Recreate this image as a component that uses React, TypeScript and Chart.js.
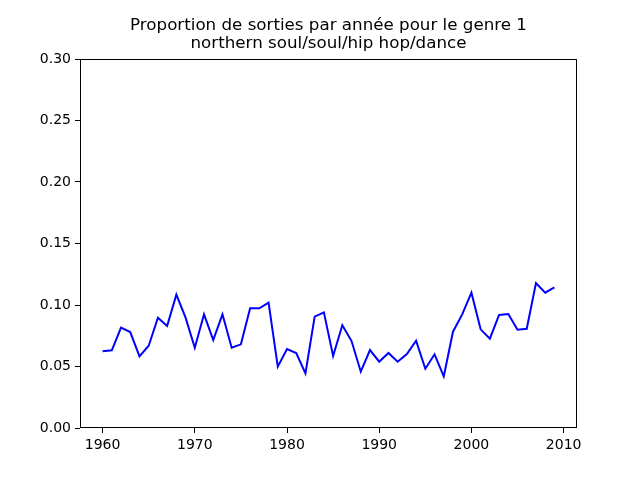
import React, { useEffect, useRef } from "react";
import { Chart, registerables } from "chart.js";

Chart.register(...registerables);

const titleLines = [
  "Proportion de sorties par année pour le genre 1",
  "northern soul/soul/hip hop/dance",
];

const years = [
  1960, 1961, 1962, 1963, 1964, 1965, 1966, 1967, 1968, 1969,
  1970, 1971, 1972, 1973, 1974, 1975, 1976, 1977, 1978, 1979,
  1980, 1981, 1982, 1983, 1984, 1985, 1986, 1987, 1988, 1989,
  1990, 1991, 1992, 1993, 1994, 1995, 1996, 1997, 1998, 1999,
  2000, 2001, 2002, 2003, 2004, 2005, 2006, 2007, 2008, 2009,
];

const proportions = [
  0.0624, 0.0632, 0.0816, 0.078, 0.0583, 0.0669, 0.0897, 0.0829, 0.1084, 0.0897,
  0.0653, 0.0924, 0.0715, 0.0924, 0.0653, 0.068, 0.0973, 0.0973, 0.1019, 0.0499,
  0.0642, 0.061, 0.0444, 0.0905, 0.094, 0.0585, 0.0835, 0.0707, 0.0458, 0.0634,
  0.0539, 0.061, 0.0539, 0.0602, 0.071, 0.0482, 0.0599, 0.042, 0.0783, 0.0924,
  0.11, 0.0802, 0.0726, 0.0919, 0.0927, 0.0799, 0.0807, 0.1179, 0.11, 0.1144,
];

const xTicks = [1960, 1970, 1980, 1990, 2000, 2010];
const yTicks = [0, 0.05, 0.1, 0.15, 0.2, 0.25, 0.3];

const FONT = "'DejaVu Sans', sans-serif";

const framePlugin = {
  id: "frameAndTitle",
  afterDraw(chart: any) {
    const { ctx, chartArea } = chart;
    ctx.save();
    ctx.strokeStyle = "#000";
    ctx.lineWidth = 1;
    ctx.strokeRect(
      Math.round(chartArea.left) + 0.5,
      Math.round(chartArea.top) + 0.5,
      Math.round(chartArea.right - chartArea.left) - 1,
      Math.round(chartArea.bottom - chartArea.top) - 1
    );
    ctx.fillStyle = "#000";
    ctx.font = `16.7px ${FONT}`;
    ctx.textAlign = "center";
    ctx.textBaseline = "middle";
    const cx = (chartArea.left + chartArea.right) / 2;
    ctx.fillText(titleLines[0], cx, 26);
    ctx.fillText(titleLines[1], cx, 44);
    ctx.restore();
  },
};

export default function App() {
  const ref = useRef<HTMLCanvasElement | null>(null);

  useEffect(() => {
    if (!ref.current) return;
    const data = years.map((y, i) => ({ x: y, y: proportions[i] }));
    const chart = new Chart(ref.current, {
      type: "line",
      data: {
        datasets: [
          {
            data,
            borderColor: "#0000ff",
            borderWidth: 2,
            pointRadius: 0,
            fill: false,
            tension: 0,
          },
        ],
      },
      options: {
        responsive: false,
        animation: false,
        layout: { padding: { top: 59, right: 63, left: 0, bottom: 0 } },
        plugins: {
          legend: { display: false },
          title: { display: false },
          tooltip: { enabled: false },
        },
        scales: {
          x: {
            type: "linear",
            min: 1957.55,
            max: 2011.45,
            afterBuildTicks: (scale: any) => {
              scale.ticks = xTicks.map((v) => ({ value: v }));
            },
            afterFit: (scale: any) => {
              scale.height = 52;
            },
            border: { display: false },
            grid: {
              drawOnChartArea: false,
              drawTicks: true,
              tickLength: 5,
              color: "#000",
              lineWidth: 1,
            },
            ticks: {
              color: "#000",
              padding: 4,
              maxRotation: 0,
              font: { family: FONT, size: 14 },
              callback: (v: any) => String(v),
            },
          },
          y: {
            type: "linear",
            min: 0,
            max: 0.3,
            afterBuildTicks: (scale: any) => {
              scale.ticks = yTicks.map((v) => ({ value: v }));
            },
            afterFit: (scale: any) => {
              scale.width = 80;
            },
            border: { display: false },
            grid: {
              drawOnChartArea: false,
              drawTicks: true,
              tickLength: 5,
              color: "#000",
              lineWidth: 1,
            },
            ticks: {
              color: "#000",
              padding: 4,
              font: { family: FONT, size: 14 },
              callback: (v: any) => Number(v).toFixed(2),
            },
          },
        },
      },
      plugins: [framePlugin],
    });
    return () => chart.destroy();
  }, []);

  return (
    <div style={{ position: "absolute", left: 0, top: 0, width: 640, height: 480, background: "#fff" }}>
      <canvas ref={ref} width={640} height={480} />
    </div>
  );
}
